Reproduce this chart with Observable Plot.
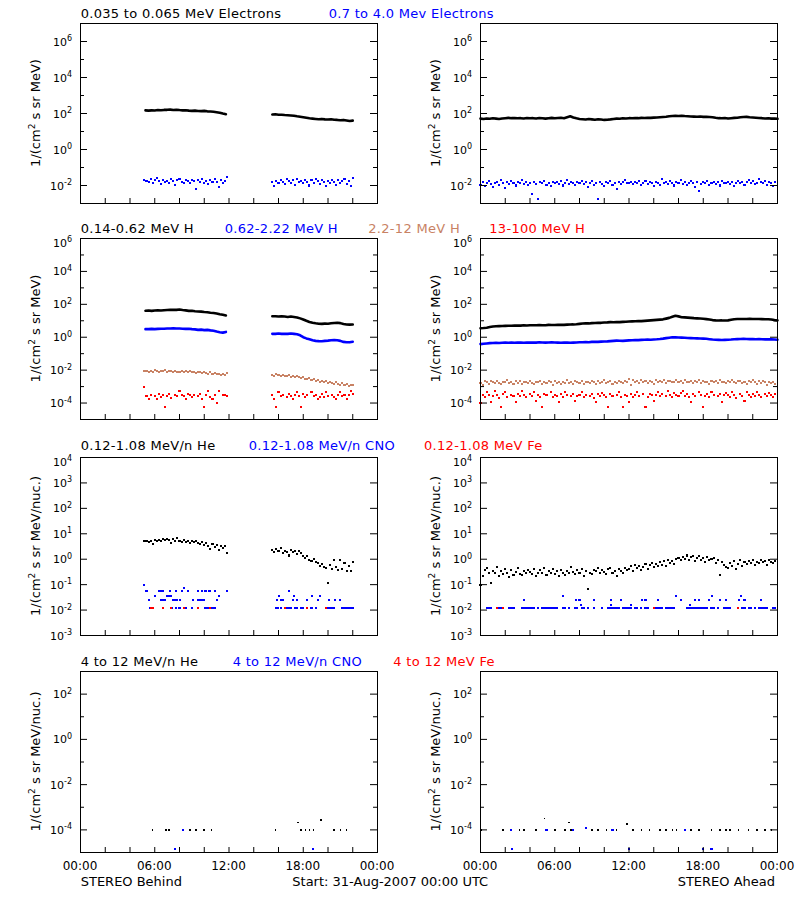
<!DOCTYPE html>
<html><head><meta charset="utf-8">
<script src="https://cdn.jsdelivr.net/npm/d3@7"></script>
<script src="https://cdn.jsdelivr.net/npm/@observablehq/plot@0.6"></script>
<style>body{margin:0;background:#fff;}</style>
</head><body><div id="chart"></div>
<script>
// ---------------- DATA ----------------
// time in minutes after 31-Aug-2007 00:00 UTC
const hourTicks = [0,2,4,6,8,10,12,14,16,18,20,22,24];
const hourLabelTicks = [0,6,12,18,24];
const hourLabels = ["00:00","06:00","12:00","18:00","00:00"];

const row1Exp = [6,4,2,0,-2];      const row1Minor = [5,3,1,-1];
const row2Exp = [6,4,2,0,-2,-4];   const row2Minor = [5,3,1,-1,-3];
const row3Exp = [4,3,2,1,0,-1,-2,-3]; const row3Minor = [];
const row4Exp = [2,0,-2,-4];       const row4Minor = [1,-1,-3];

// --- Row 1: electrons ---
const behElecLoA = [150,145,150,148,155,152,158,160,165,158,162,155,150,152,145,140,145,138,135,140,132,128,125,118,110,100,92];
const behElecLoB = [88,90,86,85,82,80,78,75,70,66,62,58,54,52,50,48,50,47,46,48,45,44,42,44,41,38,40];
const behElecHiA = [0.021,0.018,0.016,0.022,0.014,0.019,0.025,0.017,0.012,0.02,0.015,0.018,0.013,0.022,0.017,0.011,0.019,0.024,0.016,0.014,0.02,0.018,0.013,0.021,0.017,0.006,0.019,0.015,0.022,0.014,0.018,0.012,0.02,0.016,0.023,0.015,0.008,0.019,0.014,0.017,0.028];
const behElecHiB = [0.015,0.009,0.018,0.013,0.02,0.016,0.012,0.022,0.017,0.014,0.019,0.011,0.024,0.015,0.018,0.013,0.021,0.016,0.01,0.019,0.014,0.022,0.017,0.012,0.02,0.015,0.009,0.018,0.013,0.021,0.016,0.011,0.019,0.014,0.017,0.022,0.012,0.018,0.009,0.025];
const aheElecLo = [52,50,53,51,54,52,50,53,55, 57,55,56,54,55,53,56,54, 55,53,56,54,52,55,57,54, 56,58,55,62,70,60,54,50, 48,46,49,47,45,48,46,44, 45,47,50,52,51,54,53,55, 54,56,55,57,56,58,57,59, 60,62,64,66,70,72,74,73, 75,72,70,68,67,66,68,65, 66,64,62,58,55,54,56,53, 55,57,58,62,64,65,62,60, 58,56,55,53,54,52,53,51];
const aheElecHi = [0.011,0.015,0.009,0.013,0.017,0.012,0.008,0.014,0.016,0.011,0.019,0.013,0.007,0.015,0.012,0.018,0.014,0.01,0.016,0.013,0.02,0.012,0.015,0.011,
 0.014,0.0033,0.016,0.012,0.0017,0.015,0.013,0.018,0.011,0.014,0.009,0.016,0.013,0.015,0.012,0.017,0.01,0.014,0.019,0.012,0.015,0.013,0.011,0.016,
 0.013,0.017,0.012,0.015,0.008,0.014,0.018,0.011,0.013,0.0017,0.016,0.012,0.009,0.015,0.013,0.017,0.011,0.014,0.006,0.016,0.012,0.015,0.019,0.013,
 0.014,0.016,0.012,0.015,0.013,0.017,0.011,0.014,0.018,0.012,0.015,0.013,0.009,0.016,0.014,0.011,0.022,0.013,0.015,0.012,0.017,0.014,0.01,0.016,
 0.013,0.019,0.012,0.015,0.011,0.014,0.017,0.013,0.008,0.016,0.005,0.012,0.015,0.013,0.018,0.011,0.014,0.016,0.012,0.015,0.01,0.017,0.013,0.014,
 0.016,0.012,0.015,0.009,0.014,0.018,0.013,0.016,0.011,0.015,0.02,0.013,0.017,0.012,0.014,0.024,0.015,0.013,0.018,0.011,0.016,0.014,0.009,0.015];

// --- Row 2: protons ---
const behH1A = [41,42,40,42,43,42,44,45,46,47,46,48,45,43,40,41,38,37,36,34,33,31,30,28,25,23,21];
const behH1B = [19,19,18,19,18,17,18,17,16,14,12,10,8.5,7.5,7,6.6,6.5,6.7,6.6,7,7.4,7.6,7.2,6.3,6,5.8,5.9];
const behH2A = [3.1,3.1,3.2,3.1,3.2,3.3,3.3,3.4,3.4,3.5,3.4,3.4,3.3,3.2,3.3,3.1,3.0,2.8,2.9,2.7,2.8,2.6,2.5,2.2,2.0,1.9,2.1];
const behH2B = [1.6,1.6,1.7,1.6,1.6,1.6,1.7,1.6,1.5,1.3,1.0,0.85,0.75,0.65,0.6,0.58,0.57,0.6,0.62,0.65,0.68,0.66,0.6,0.52,0.5,0.49,0.53];
const behH3A = [0.0085,0.0095,0.0078,0.009,0.0082,0.0098,0.0088,0.0076,0.0092,0.0085,0.0096,0.008,0.0089,0.0084,0.0075,0.0087,0.0081,0.0079,0.0086,0.0073,0.0083,0.0077,0.0088,0.0072,0.008,0.0069,0.0078,0.0074,0.0066,0.0076,0.0068,0.0061,0.0072,0.0058,0.0065,0.0055,0.0062,0.0051,0.0059,0.0054,0.0068];
const behH3B = [0.0052,0.0047,0.0055,0.0049,0.0045,0.0051,0.0046,0.0043,0.0048,0.0041,0.0044,0.0038,0.0042,0.0036,0.0033,0.0037,0.003,0.0027,0.0032,0.0024,0.0028,0.0021,0.0025,0.0019,0.0023,0.0018,0.0021,0.0016,0.002,0.0017,0.0014,0.0019,0.0015,0.0013,0.0017,0.0012,0.0015,0.0011,0.0013,0.0012];
const behH4A = [8.9e-4,2.8e-4,1.7e-4,3.2e-4,null,2.6e-4,1.7e-4,3.5e-4,2.4e-4,3.0e-4,5.4e-5,2.8e-4,3.4e-4,2.1e-4,null,3.0e-4,2.5e-4,5.6e-4,3.3e-4,2.7e-4,1.7e-4,3.6e-4,2.9e-4,2.3e-4,3.1e-4,null,2.6e-4,3.4e-4,1.7e-4,5.4e-5,3.0e-4,5.6e-4,2.4e-4,1.7e-4,3.2e-4,1.0e-4,5.6e-4,null,2.9e-4,3.3e-4,2.8e-4];
const behH4B = [3.0e-4,1.7e-4,5.4e-5,4.8e-4,2.6e-4,3.3e-4,null,2.2e-4,3.5e-4,2.8e-4,1.7e-4,3.1e-4,4.6e-4,2.5e-4,5.4e-5,3.4e-4,2.2e-4,2.9e-4,null,4.8e-4,2.6e-4,3.2e-4,1.7e-4,2.4e-4,3.6e-4,2.2e-4,4.5e-4,2.8e-4,null,3.3e-4,2.4e-4,1.7e-4,3.0e-4,4.6e-4,2.6e-4,3.2e-4,1.7e-4,2.9e-4,5.4e-4,3.4e-4];
const aheH1 = [3.5,3.6,3.8,4.2,4.5,4.6,4.7,4.8,4.9, 5.0,5.0,5.1,5.2,5.1,5.3,5.2,5.4, 5.4,5.3,5.5,5.4,5.4,5.6,5.5,5.5, 5.6,5.7,5.6,5.8,5.9,6.0,6.2,6.5, 6.8,7.0,6.9,7.2,7.4,7.6,7.5,7.8, 8.0,8.3,8.2,8.4,8.3,8.6,8.8,9.0, 9.2,9.4,9.6,9.5,9.8,10.2,10.6,11.0, 11.4,11.8,12.2,13.5,15.0,17.5,20.0,18.5, 16.5,16.0,15.5,15.0,14.4,14.0,13.6,13.2, 12.6,12.0,11.0,10.6,10.4,10.5,10.3,10.6, 11.5,12.4,12.8,12.9,12.7,12.9,13.0,12.8, 12.9,12.7,12.6,12.4,12.5,12.0,11.0,10.5];
const aheH2 = [0.38,0.40,0.42,0.44,0.45,0.46,0.45,0.46,0.47, 0.46,0.47,0.46,0.48,0.47,0.46,0.48,0.47, 0.48,0.47,0.49,0.48,0.47,0.48,0.49,0.48, 0.47,0.46,0.47,0.48,0.46,0.47,0.48,0.49, 0.50,0.51,0.50,0.52,0.53,0.52,0.54,0.55, 0.56,0.58,0.60,0.62,0.61,0.60,0.62,0.64, 0.66,0.68,0.67,0.69,0.70,0.72,0.71,0.73, 0.75,0.78,0.82,0.88,0.94,1.0,0.98,0.96, 0.94,0.92,0.90,0.88,0.86,0.85,0.84,0.82, 0.80,0.76,0.72,0.70,0.69,0.68,0.69,0.70, 0.72,0.75,0.77,0.78,0.79,0.78,0.77,0.78, 0.76,0.77,0.75,0.74,0.76,0.74,0.72,0.70];
const aheH3 = [1.6e-3,1.3e-3,2.1e-3,1.8e-3,1.4e-3,2.3e-3,1.9e-3,1.6e-3,2.2e-3,1.7e-3,1.5e-3,2.0e-3,1.8e-3,2.4e-3,1.6e-3,1.9e-3,1.4e-3,2.1e-3,1.7e-3,2.3e-3,1.5e-3,1.9e-3,2.0e-3,1.6e-3,
 2.2e-3,1.7e-3,1.4e-3,2.0e-3,1.8e-3,2.3e-3,1.5e-3,1.9e-3,1.6e-3,2.1e-3,1.8e-3,1.3e-3,2.2e-3,1.7e-3,1.9e-3,1.5e-3,2.0e-3,1.7e-3,2.4e-3,1.6e-3,1.8e-3,1.4e-3,2.1e-3,1.9e-3,
 1.7e-3,2.2e-3,1.5e-3,1.9e-3,2.0e-3,1.6e-3,2.3e-3,1.8e-3,1.4e-3,2.1e-3,1.7e-3,1.9e-3,2.4e-3,1.6e-3,1.8e-3,2.2e-3,1.5e-3,2.0e-3,1.7e-3,2.3e-3,1.9e-3,1.6e-3,2.1e-3,1.8e-3,
 2.7e-3,1.3e-3,2.4e-3,1.8e-3,2.2e-3,1.6e-3,2.5e-3,1.9e-3,2.1e-3,1.7e-3,2.3e-3,2.0e-3,1.5e-3,2.4e-3,1.8e-3,2.2e-3,1.9e-3,2.6e-3,1.7e-3,2.1e-3,2.3e-3,1.8e-3,2.0e-3,2.5e-3,
 1.9e-3,2.2e-3,1.7e-3,2.4e-3,2.0e-3,1.8e-3,2.3e-3,1.6e-3,2.1e-3,1.9e-3,2.5e-3,1.7e-3,2.2e-3,1.8e-3,2.0e-3,1.5e-3,2.3e-3,1.9e-3,2.1e-3,1.7e-3,2.4e-3,1.8e-3,2.0e-3,1.6e-3,
 2.2e-3,1.8e-3,2.4e-3,1.9e-3,1.6e-3,2.1e-3,2.3e-3,1.7e-3,2.0e-3,1.5e-3,2.2e-3,1.9e-3,2.5e-3,1.8e-3,1.4e-3,2.1e-3,1.7e-3,2.3e-3,1.9e-3,1.3e-3,2.0e-3,1.6e-3,1.9e-3,1.5e-3];
const aheH4 = [1.0e-4,3.0e-4,2.2e-4,4.8e-4,3.3e-4,1.2e-4,2.6e-4,5.6e-4,3.0e-4,2.1e-4,5.9e-5,3.6e-4,4.6e-4,2.4e-4,null,3.2e-4,2.8e-4,1.2e-4,3.8e-4,2.5e-4,5.2e-4,3.1e-4,2.2e-4,null,
 3.4e-4,2.7e-4,4.4e-4,1.3e-4,3.0e-4,2.4e-4,5.9e-5,3.6e-4,2.9e-4,null,4.9e-4,2.2e-4,3.3e-4,2.6e-4,1.2e-4,3.7e-4,2.3e-4,4.5e-4,3.0e-4,null,2.5e-4,3.5e-4,1.3e-4,2.8e-4,
 3.2e-4,4.7e-4,2.4e-4,3.0e-4,null,2.6e-4,3.8e-4,2.1e-4,1.2e-4,3.4e-4,2.7e-4,4.2e-4,3.0e-4,2.3e-4,5.9e-5,3.5e-4,2.5e-4,null,3.1e-4,4.6e-4,2.2e-4,5.9e-5,3.3e-4,2.8e-4,
 1.2e-4,3.6e-4,2.4e-4,3.0e-4,4.5e-4,2.7e-4,null,3.4e-4,5.9e-5,2.3e-4,3.8e-4,2.9e-4,1.3e-4,3.2e-4,4.8e-4,2.5e-4,3.5e-4,null,2.8e-4,5.3e-4,3.1e-4,2.4e-4,4.1e-4,3.3e-4,
 2.6e-4,3.9e-4,5.5e-4,2.8e-4,3.4e-4,2.2e-4,1.2e-4,3.6e-4,2.7e-4,null,4.4e-4,3.1e-4,5.9e-5,2.5e-4,3.7e-4,2.2e-4,4.8e-4,3.0e-4,null,2.6e-4,3.5e-4,1.2e-4,2.9e-4,4.2e-4,
 3.2e-4,2.4e-4,5.0e-4,3.0e-4,2.1e-4,null,3.6e-4,2.7e-4,1.3e-4,4.4e-4,3.1e-4,2.3e-4,3.8e-4,2.6e-4,4.7e-4,3.3e-4,2.2e-4,null,3.5e-4,2.8e-4,4.2e-4,3.0e-4,2.4e-4,3.6e-4];

// --- Row 3: 0.12-1.08 MeV/n ions ---
const behHeLoA = [5.0,5.4,4.6,5.2,4.0,5.6,5.1,5.8,5.3,6.0,5.5,6.2,5.7,4.5,6.0,5.4,6.6,5.2,4.8,5.6,4.9,5.3,4.2,5.0,4.6,5.1,4.3,3.9,4.7,3.6,4.4,3.3,2.5,4.0,3.1,3.5,2.4,3.2,2.8,3.4,1.8];
const behHeLoB = [2.3,1.9,2.5,2.1,2.7,1.8,2.2,2.0,1.4,2.3,1.9,2.1,1.6,2.2,1.7,1.3,1.1,1.3,0.95,0.85,1.0,0.8,0.7,0.55,0.65,0.5,0.45,0.12,0.6,0.42,0.95,0.5,0.38,0.9,0.42,0.7,0.35,0.52,0.33,0.8];
const aheHeLo = [0.10,0.22,0.38,0.45,0.3,0.12,0.35,0.28,0.5,0.22,0.33,0.26,0.4,0.29,0.2,0.36,0.25,0.31,0.44,0.27,0.23,0.34,0.29,0.38,
 0.32,0.26,0.4,0.22,0.3,0.36,0.28,0.45,0.24,0.33,0.3,0.42,0.27,0.35,0.21,0.38,0.3,0.25,0.34,0.28,0.48,0.32,0.26,0.37,
 0.29,0.41,0.22,0.35,0.07,0.3,0.27,0.38,0.33,0.44,0.28,0.36,0.31,0.26,0.4,0.47,0.3,0.35,0.22,0.42,0.33,0.29,0.45,0.38,
 0.4,0.52,0.35,0.6,0.44,0.55,0.38,0.5,0.65,0.42,0.58,0.7,0.48,0.62,0.55,0.75,0.6,0.82,0.52,0.9,0.7,0.85,0.65,1.0,
 1.1,0.9,1.25,1.05,1.4,0.95,1.2,1.3,0.85,1.15,1.35,0.9,1.1,0.8,1.2,0.95,1.0,1.15,0.7,0.9,0.24,0.75,0.6,0.5,
 0.45,0.7,0.55,0.85,0.4,0.65,0.9,0.55,0.75,0.62,0.85,0.7,0.95,0.6,0.8,0.68,0.9,0.75,0.85,0.58,0.95,0.78,0.7,0.88];
const cnoLevels = [0.0118, 0.016, 0.024, 0.035, 0.058, 0.072, 0.095];
const behCnoLo = [
  [335,445,465,480,510,540,605,612,620,640,650, 950,958,970,1000,1010,1020,1040,1050,1070,1080,1120,1140,1200,1210,1220,1230,1270,1280,1290,1300,1310,1320],
  [],
  [330,390,400,410,450,460,470,483,545,570,580,590,600,660, 952,972,980,1030,1050,1100,1150,1203,1232,1260],
  [360,420,430,440,670, 962,1033,1122,1160],
  [320,380,392,402,432,462,490,520,572,590,602,610,622,630,652,710, 1012],
  [500],
  [310]
];
const behFeLo = [340,350,400,440,500,570,630, 990,1100,1190];
const aheCnoLo = [
  [30,40,50,90,100,140,150,160,200,210,220,230,240,250,260,280,300,310,320,330,340,350,360,370,400,410,430,460,470,490,500,520,550,590,620,630,640,650,660,670,690,700,710,720,730,750,760,780,800,810,850,860,870,880,900,910,920,930,940,1000,1010,1020,1030,1040,1050,1060,1070,1080,1090,1100,1120,1130,1150,1180,1190,1200,1210,1250,1270,1280,1300,1310,1330,1350,1360,1370,1380,1390,1420,1430],
  [485,635,730,1015],
  [212,462,480,550,632,680,782,800,862,970,1040,1060,1110,1160,1190,1252,1280,1360],
  [402,950,1122,1262],
  [], [], []
];
const aheFeLo = [80,110,840,1250];

// --- Row 4: 4-12 MeV/n ions (minute, value) ---
const behHeHiMin = [350,415,430,530,560,600,635,945,1055,1070,1090,1110,1130,1165,1230,1260,1290];
const behHeHiVal = [1e-4,1e-4,1e-4,1e-4,1e-4,1e-4,1e-4,1e-4,2.1e-4,1e-4,1e-4,1e-4,1e-4,2.8e-4,1e-4,1e-4,1e-4];
const behCnoHiMin = [460,497,1128];
const behCnoHiVal = [1.4e-5,1e-4,1.4e-5];
const aheHeHiMin = [5,110,190,210,270,310,360,410,430,440,540,570,610,660,710,740,780,820,870,900,930,950,1020,1060,1120,1160,1190,1210,1250,1300,1340,1380,1410];
const aheHeHiVal = [1e-4,1e-4,1e-4,1e-4,1e-4,3.2e-4,1e-4,1e-4,2.1e-4,1e-4,1e-4,1e-4,1e-4,1e-4,1.8e-4,1e-4,1e-4,1e-4,1e-4,1e-4,1e-4,1e-4,1e-4,1e-4,1e-4,1e-4,1e-4,1e-4,1e-4,1e-4,1e-4,1e-4,1e-4];
const aheCnoHiMin = [150,320,450,510,640,990,155,720,1080,1120];
const aheCnoHiVal = [1e-4,1e-4,1e-4,1.2e-4,1e-4,1e-4,1.4e-5,1.4e-5,1.4e-5,1.4e-5];

// ---------------- helpers ----------------
const BLACK = "#000000", BLUE = "#0000ff", RED = "#ff0000", TAN = "rgb(200,130,100)";
function regular(startMin, stepMin, vals, seg = 0) {
  return vals.map((v, i) => ({t: (startMin + i * stepMin) / 60, v, seg})).filter(d => d.v != null);
}
function pairs(mins, vals) { return mins.map((m, i) => ({t: m / 60, v: vals[i]})); }
function levels(groups) {
  const out = [];
  groups.forEach((mins, k) => mins.forEach(m => out.push({t: m / 60, v: cnoLevels[k]})));
  return out;
}
function atOne(mins) { return mins.map(m => ({t: m / 60, v: cnoLevels[0]})); }
const dots = (data, color, r = 1.13) => Plot.dot(data, {x: "t", y: "v", symbol: "square", r, fill: color, stroke: "none", shapeRendering: "crispEdges"});
const band = (data, color) => Plot.line(data, {x: "t", y: "v", z: "seg", stroke: color, strokeWidth: 2.6});

// ---------------- layout ----------------
const PL = 80, PW = 297, PAD = 10;
const rows = [
  {top: 23, h: 180, domain: [1e-3, 1e7], exp: row1Exp, minor: row1Minor, unit: " s sr MeV)"},
  {top: 238, h: 181, domain: [1e-5, 1e6], exp: row2Exp, minor: row2Minor, unit: " s sr MeV)"},
  {top: 457, h: 178, domain: [1e-3, 1e4], exp: row3Exp, minor: row3Minor, unit: " s sr MeV/nuc.)"},
  {top: 671, h: 181, domain: [1e-5, 1e3], exp: row4Exp, minor: row4Minor, unit: " s sr MeV/nuc.)"}
];

const panelMarks = [
  [
    [band([...regular(315, 15, behElecLoA, 0), ...regular(930, 15, behElecLoB, 1)], BLACK),
     dots([...regular(310, 10, behElecHiA), ...regular(930, 10, behElecHiB)], BLUE)],
    [band(regular(0, 15, aheElecLo), BLACK), dots(regular(0, 10, aheElecHi), BLUE)]
  ],
  [
    [band([...regular(315, 15, behH1A, 0), ...regular(930, 15, behH1B, 1)], BLACK),
     band([...regular(315, 15, behH2A, 0), ...regular(930, 15, behH2B, 1)], BLUE),
     dots([...regular(310, 10, behH3A), ...regular(930, 10, behH3B)], TAN),
     dots([...regular(310, 10, behH4A), ...regular(930, 10, behH4B)], RED)],
    [band(regular(0, 15, aheH1), BLACK), band(regular(0, 15, aheH2), BLUE),
     dots(regular(0, 10, aheH3), TAN), dots(regular(0, 10, aheH4), RED)]
  ],
  [
    [dots([...regular(310, 10, behHeLoA), ...regular(930, 10, behHeLoB)], BLACK),
     dots(levels(behCnoLo), BLUE), dots(atOne(behFeLo), RED)],
    [dots(regular(0, 10, aheHeLo), BLACK), dots(levels(aheCnoLo), BLUE), dots(atOne(aheFeLo), RED)]
  ],
  [
    [dots(pairs(behHeHiMin, behHeHiVal), BLACK, 0.9), dots(pairs(behCnoHiMin, behCnoHiVal), BLUE)],
    [dots(pairs(aheHeHiMin, aheHeHiVal), BLACK, 0.9), dots(pairs(aheCnoHiMin, aheCnoHiVal), BLUE)]
  ]
];

const root = d3.create("svg").attr("width", 800).attr("height", 900).attr("viewBox", "0 0 800 900")
  .attr("font-family", "DejaVu Sans").style("background", "#fff").style("display", "block");

rows.forEach((R, ri) => {
  [0, 1].forEach(col => {
    const majors = R.exp.map(e => 10 ** e);
    const minors = R.minor.map(e => 10 ** e);
    const p = Plot.plot({
      width: PL + PW + PAD, height: R.h + 2 * PAD,
      marginLeft: PL, marginRight: PAD, marginTop: PAD, marginBottom: PAD,
      x: {domain: [0, 24], axis: null},
      y: {type: "log", domain: R.domain, axis: null},
      marks: [
        ...panelMarks[ri][col],
        Plot.tickY(majors, {y: d => d, stroke: BLACK, insetRight: PW - 7}),
        Plot.tickY(majors, {y: d => d, stroke: BLACK, insetLeft: PW - 7}),
        Plot.tickY(minors, {y: d => d, stroke: BLACK, insetRight: PW - 4}),
        Plot.tickY(minors, {y: d => d, stroke: BLACK, insetLeft: PW - 4}),
        Plot.tickX(hourTicks, {x: d => d, stroke: BLACK, insetTop: R.h - 5}),
        Plot.frame({stroke: BLACK})
      ]
    });
    const ox = col * 400, oy = R.top - PAD;
    const g = root.append("g").attr("transform", `translate(${ox},${oy})`).node();
    while (p.firstChild) g.appendChild(p.firstChild);
    const ys = p.scale("y"), xs = p.scale("x");
    const topValue = R.domain[1];
    R.exp.forEach(e => {
      const shift = (10 ** e >= topValue) ? 8.5 : 4.5;   // top-edge label sits lower, as in the reference
      const t = root.append("text").attr("x", ox + PL - 8).attr("y", oy + ys.apply(10 ** e) + shift)
        .attr("text-anchor", "end").attr("font-size", 11).attr("fill", BLACK);
      t.append("tspan").text("10");
      t.append("tspan").attr("dy", -4.5).attr("font-size", 8).text(String(e));
    });
    const cy = oy + PAD + R.h / 2;
    const yl = root.append("text").attr("transform", `translate(${ox + 40},${cy}) rotate(-90)`)
      .attr("text-anchor", "middle").attr("font-size", 13).attr("fill", BLACK);
    yl.append("tspan").text("1/(cm");
    yl.append("tspan").attr("dy", -5).attr("font-size", 9).text("2");
    yl.append("tspan").attr("dy", 5).text(R.unit);
    if (ri === 3) {
      hourLabelTicks.forEach((h, i) => {
        root.append("text").attr("x", ox + xs.apply(h)).attr("y", 870).attr("text-anchor", "middle")
          .attr("font-size", 12).attr("fill", BLACK).text(hourLabels[i]);
      });
    }
  });
});

const titles = [
  {y: 18, items: [[80.7, "0.035 to 0.065 MeV Electrons", BLACK], [328.7, "0.7 to 4.0 Mev Electrons", BLUE]]},
  {y: 233, items: [[80.7, "0.14-0.62 MeV H", BLACK], [224.7, "0.62-2.22 MeV H", BLUE], [368.3, "2.2-12 MeV H", TAN], [489.3, "13-100 MeV H", RED]]},
  {y: 450, items: [[80.7, "0.12-1.08 MeV/n He", BLACK], [248.7, "0.12-1.08 MeV/n CNO", BLUE], [424, "0.12-1.08 MeV Fe", RED]]},
  {y: 665.5, items: [[80.7, "4 to 12 MeV/n He", BLACK], [232.7, "4 to 12 MeV/n CNO", BLUE], [393.3, "4 to 12 MeV Fe", RED]]}
];
titles.forEach(r => r.items.forEach(([x, s, c]) => {
  root.append("text").attr("x", x).attr("y", r.y).attr("font-size", 13).attr("letter-spacing", 0.3)
    .attr("fill", c).text(s);
}));
root.append("text").attr("x", 80.7).attr("y", 886).attr("font-size", 13).text("STEREO Behind");
root.append("text").attr("x", 292.3).attr("y", 886).attr("font-size", 13).text("Start: 31-Aug-2007 00:00 UTC");
root.append("text").attr("x", 775).attr("y", 886).attr("font-size", 13).attr("text-anchor", "end").text("STEREO Ahead");

document.getElementById("chart").appendChild(root.node());
</script></body></html>
